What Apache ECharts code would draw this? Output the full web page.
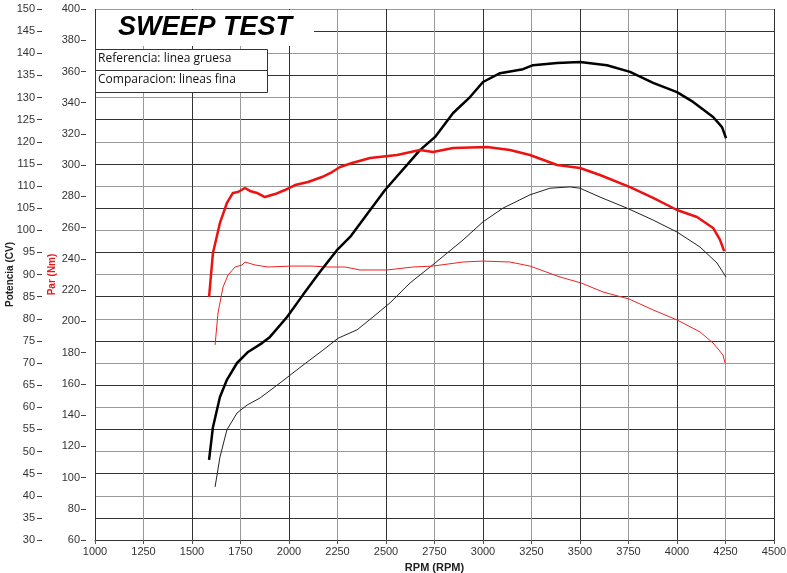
<!DOCTYPE html>
<html>
<head>
<meta charset="utf-8">
<script src="https://cdn.jsdelivr.net/npm/echarts@6/dist/echarts.min.js"></script>
<style>
html,body{margin:0;padding:0;background:#fff;}
#chart{width:787px;height:573px;}
</style>
</head>
<body>
<div id="chart"></div>
<script>
var rpmTicks = [1000,1250,1500,1750,2000,2250,2500,2750,3000,3250,3500,3750,4000,4250,4500];

var refPowerRpm = [1588,1608,1644,1680,1732,1789,1861,1902,1990,2072,2160,2247,2315,2495,2675,2753,2846,2933,3000,3088,3206,3258,3382,3500,3639,3758,3877,4000,4083,4186,4232,4253];
var refPowerCV  = [48.1,55.5,62.3,66.2,70.0,72.5,74.5,75.9,80.4,85.4,90.6,95.5,98.5,109.1,118.1,121.1,126.5,130.1,133.5,135.5,136.4,137.3,137.8,138.0,137.3,135.8,133.3,131.2,129.0,125.6,123.3,120.8];

var compPowerRpm = [1619,1644,1680,1732,1784,1851,1954,2072,2175,2253,2351,2433,2521,2624,2753,2897,3000,3103,3242,3345,3448,3500,3603,3742,3877,4000,4119,4206,4253];
var compPowerCV  = [42.0,48.7,54.9,58.7,60.5,62.1,65.5,69.5,72.9,75.6,77.5,80.4,83.6,88.1,92.6,97.8,101.9,105.0,108.0,109.5,109.8,109.5,107.5,105.0,102.3,99.6,96.2,92.6,89.4];

var refTorqueRpm = [1588,1608,1644,1680,1711,1737,1773,1799,1835,1876,1928,1979,2031,2098,2170,2222,2263,2325,2418,2557,2675,2742,2846,3021,3139,3242,3382,3500,3603,3758,3877,4000,4103,4186,4222,4243];
var refTorqueNm  = [215.6,243.8,263.0,275.8,282.2,282.8,285.4,283.5,282.2,279.6,281.5,284.1,287.3,289.2,292.4,295.6,298.8,301.4,304.6,306.5,309.7,308.4,311.0,311.6,309.7,306.5,300.1,298.2,293.7,286.0,279.0,271.3,266.8,259.8,252.1,245.0];

var compTorqueRpm = [1619,1634,1660,1686,1722,1758,1773,1825,1892,2016,2119,2201,2289,2366,2505,2639,2742,2897,3000,3139,3242,3397,3505,3619,3753,3877,4000,4119,4186,4237,4248];
var compTorqueNm  = [184.9,205.3,222.0,229.7,234.8,236.1,238.0,236.1,234.8,235.4,235.4,234.8,234.8,232.9,232.9,234.8,235.4,238.0,238.6,238.0,235.4,228.4,224.6,218.8,214.3,207.3,200.9,193.2,186.1,178.5,173.3];

var titleText = 'SWEEP TEST';
var legendRef = 'Referencia: linea gruesa';
var legendComp = 'Comparacion: lineas fina';

function pairs(xs, ys){ return xs.map(function(x,i){ return [x, ys[i]]; }); }

var narrow = "'Liberation Sans Narrow', 'Liberation Sans', Arial, sans-serif";

var chart = echarts.init(document.getElementById('chart'), null, {renderer:'canvas'});
chart.setOption({
  animation:false,
  backgroundColor:'#fff',
  grid:{left:95, right:13, top:9, bottom:33, containLabel:false, outerBoundsMode:'none'},
  xAxis:{
    type:'value', min:rpmTicks[0], max:rpmTicks[rpmTicks.length-1], interval:250,
    name:'RPM (RPM)', nameLocation:'middle', nameGap:22, nameMoveOverlap:false,
    nameTextStyle:{fontFamily:narrow, fontWeight:'bold', fontSize:11, color:'#222'},
    axisLine:{show:true, lineStyle:{color:'#333', width:1}},
    axisTick:{show:true, length:4, lineStyle:{color:'#555'}},
    axisLabel:{fontFamily:narrow, fontSize:11, color:'#333', margin:6, formatter:function(v){ return String(v); }},
    splitLine:{show:true, lineStyle:{color:['#333','#999'], width:1}}
  },
  yAxis:[
    {
      type:'value', min:30, max:150, interval:5, position:'left', offset:58,
      name:'Potencia (CV)', nameLocation:'middle', nameGap:22, nameMoveOverlap:false,
      nameTextStyle:{fontFamily:narrow, fontWeight:'bold', fontSize:10, color:'#222'},
      axisLine:{show:false},
      axisTick:{show:true, inside:true, length:5, lineStyle:{color:'#444'}},
      axisLabel:{fontFamily:narrow, fontSize:11, color:'#333', margin:2, formatter:function(v){ return String(v); }},
      splitLine:{show:true, lineStyle:{color:['#999','#333'], width:1}}
    },
    {
      type:'value', min:60, max:400, interval:20, position:'left', offset:14,
      name:'Par (Nm)', nameLocation:'middle', nameGap:24, nameMoveOverlap:false,
      nameTextStyle:{fontFamily:narrow, fontWeight:'bold', fontSize:10, color:'#e8141a'},
      axisLine:{show:false},
      axisTick:{show:true, inside:true, length:5, lineStyle:{color:'#444'}},
      axisLabel:{fontFamily:narrow, fontSize:11, color:'#333', margin:1, formatter:function(v){ return String(v); }},
      splitLine:{show:false}
    }
  ],
  series:[
    {type:'line', name:'refPower', yAxisIndex:0, data:pairs(refPowerRpm, refPowerCV), showSymbol:false, lineStyle:{color:'#000', width:2.5}, z:5},
    {type:'line', name:'compPower', yAxisIndex:0, data:pairs(compPowerRpm, compPowerCV), showSymbol:false, lineStyle:{color:'#222', width:1}, z:4},
    {type:'line', name:'refTorque', yAxisIndex:1, data:pairs(refTorqueRpm, refTorqueNm), showSymbol:false, lineStyle:{color:'#ee1111', width:2.5}, z:5},
    {type:'line', name:'compTorque', yAxisIndex:1, data:pairs(compTorqueRpm, compTorqueNm), showSymbol:false, lineStyle:{color:'#ee2222', width:1}, z:4}
  ],
  graphic:[
    {type:'rect', z:100, shape:{x:96, y:10, width:218, height:36}, style:{fill:'#fff'}},
    {type:'text', z:101, left:118, top:14, style:{text:titleText, fontFamily:"'Liberation Sans', Arial, sans-serif", fontWeight:'bold', fontStyle:'italic', fontSize:27, fill:'#000'}},
    {type:'rect', z:100, shape:{x:95.5, y:49.5, width:172, height:21}, style:{fill:'#fff', stroke:'#333', lineWidth:1}},
    {type:'text', z:101, left:98, top:53, style:{text:legendRef, fontFamily:"'Open Sans', 'Noto Sans', sans-serif", fontSize:12, fill:'#111'}},
    {type:'rect', z:100, shape:{x:95.5, y:70.5, width:172, height:22}, style:{fill:'#fff', stroke:'#333', lineWidth:1}},
    {type:'text', z:101, left:98, top:74, style:{text:legendComp, fontFamily:"'Open Sans', 'Noto Sans', sans-serif", fontSize:12, fill:'#111'}}
  ]
});
</script>
</body>
</html>
